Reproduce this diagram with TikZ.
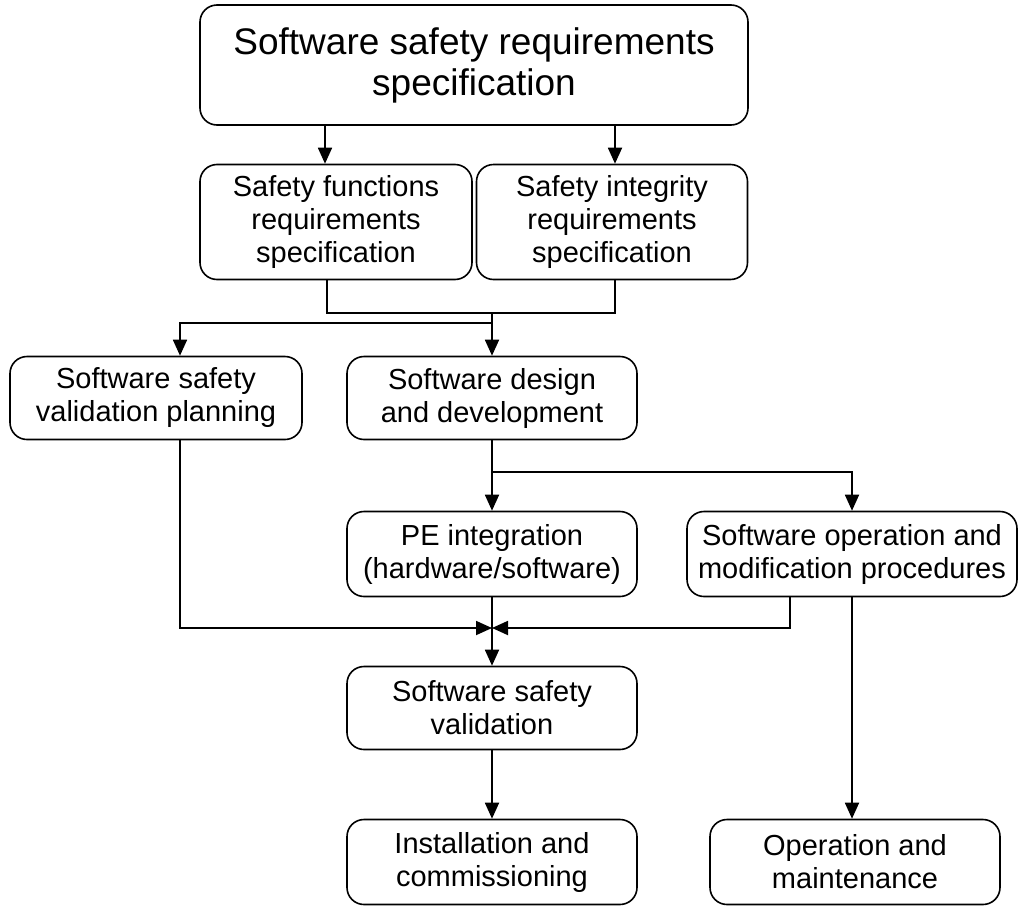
\documentclass[tikz,border=0pt]{standalone}
\usepackage{fontspec}
\setmainfont{Liberation Sans}
\usepackage{tikz}
\usetikzlibrary{arrows.meta, positioning}

\begin{document}
\begin{tikzpicture}[x=1pt, y=-1pt,
  box/.style={draw, line width=1.6pt, rounded corners=17pt, align=center,
    font=\fontsize{29}{33}\selectfont, inner sep=0pt},
  arr/.style={line width=1.8pt, -{Triangle[length=16pt, width=14pt]}},
  ln/.style={line width=1.8pt}]
\useasboundingbox (0,0) rectangle (1021,908); % page size
\node[box, minimum width=548pt, minimum height=120pt, font=\fontsize{37}{41}\selectfont]
  (spec) at (474,65) {Software safety requirements\\specification};
\node[box, minimum width=272pt, minimum height=115pt] (func) at (336,222)
  {Safety functions\\requirements\\specification};
\node[box, minimum width=271pt, minimum height=115pt] (integ) at (612,222)
  {Safety integrity\\requirements\\specification};
\node[box, minimum width=292pt, minimum height=83pt] (plan) at (156,398)
  {Software safety\\validation planning};
\node[box, minimum width=290pt, minimum height=83pt] (design) at (492,398)
  {Software design\\and development};
\node[box, minimum width=290pt, minimum height=85pt] (pe) at (492,554)
  {PE integration\\(hardware/software)};
\node[box, minimum width=330pt, minimum height=85pt] (proc) at (852,554)
  {Software operation and\\modification procedures};
\node[box, minimum width=290pt, minimum height=83pt] (valid) at (492,708)
  {Software safety\\validation};
\node[box, minimum width=290pt, minimum height=85pt] (install) at (492,862)
  {Installation and\\commissioning};
\node[box, minimum width=290pt, minimum height=85pt] (maint) at (855,862)
  {Operation and\\maintenance};
% top level
\draw[arr] (spec.south -| 325,0) -- (func.north -| 325,0);
\draw[arr] (spec.south -| 615,0) -- (integ.north -| 615,0);
% joining the two specifications
\coordinate (join) at (design.north |- 0,313);
\draw[ln] (func.south -| 327,0) -- (327,313) -- (615,313) -- (integ.south -| 615,0);
\draw[arr] (join) -- (design.north);
\draw[arr] (join) |- (180,323) -- (plan.north -| 180,0);
% design branches
\coordinate (split) at (design.south |- 0,472);
\draw[ln] (design.south) -- (split);
\draw[arr] (split) -- (pe.north);
\draw[arr] (split) -| (proc.north);
% into validation
\coordinate (meet) at (pe.south |- 0,628);
\draw[arr] (plan.south -| 180,0) |- (meet);
\draw[arr] (proc.south -| 790,0) |- (meet);
\draw[arr] (pe.south) -- (valid.north);
\draw[arr] (valid.south) -- (install.north);
\draw[arr] (proc.south) -- (maint.north -| proc.south);
\end{tikzpicture}
\end{document}
